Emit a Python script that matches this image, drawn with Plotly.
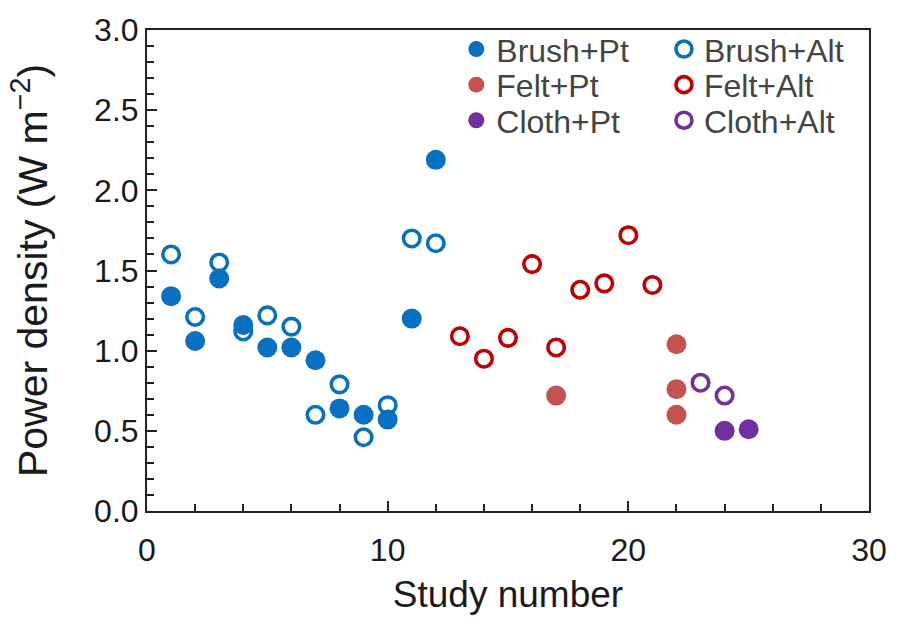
import plotly.graph_objects as go

# ---- data ----
brush_pt_x = [1, 2, 3, 4, 5, 6, 7, 8, 9, 10, 11, 12]
brush_pt_y = [1.34, 1.06, 1.45, 1.16, 1.02, 1.02, 0.94, 0.64, 0.60, 0.57, 1.20, 2.19]

brush_alt_x = [1, 2, 3, 4, 5, 6, 7, 8, 9, 10, 11, 12]
brush_alt_y = [1.60, 1.21, 1.55, 1.12, 1.22, 1.15, 0.60, 0.79, 0.46, 0.66, 1.70, 1.67]

felt_pt_x = [17, 22, 22, 22]
felt_pt_y = [0.72, 1.04, 0.76, 0.60]

felt_alt_x = [13, 14, 15, 16, 17, 18, 19, 20, 21]
felt_alt_y = [1.09, 0.95, 1.08, 1.54, 1.02, 1.38, 1.42, 1.72, 1.41]

cloth_pt_x = [24, 25]
cloth_pt_y = [0.50, 0.51]

cloth_alt_x = [23, 24]
cloth_alt_y = [0.80, 0.72]

y_ticks = [0.0, 0.5, 1.0, 1.5, 2.0, 2.5, 3.0]
x_ticks = [0, 10, 20, 30]

BLUE = "#0870C2"
FELT_FILL = "#C4534F"
FELT_OPEN = "#C00000"
PURPLE = "#7030A0"
FONT = "Liberation Sans, Arial, sans-serif"

fig = go.Figure()

def filled(x, y, name, color, legend):
    fig.add_trace(go.Scatter(
        x=x, y=y, mode="markers", name=name, legend=legend,
        marker=dict(symbol="circle", size=20, color=color, line=dict(width=0)),
    ))

def hollow(x, y, name, color, legend):
    fig.add_trace(go.Scatter(
        x=x, y=y, mode="markers", name=name, legend=legend,
        marker=dict(symbol="circle-open", size=16.5, color=color,
                    line=dict(width=3.6, color=color)),
    ))

filled(brush_pt_x, brush_pt_y, "Brush+Pt", BLUE, "legend")
hollow(brush_alt_x, brush_alt_y, "Brush+Alt", BLUE, "legend2")
filled(felt_pt_x, felt_pt_y, "Felt+Pt", FELT_FILL, "legend3")
hollow(felt_alt_x, felt_alt_y, "Felt+Alt", FELT_OPEN, "legend4")
filled(cloth_pt_x, cloth_pt_y, "Cloth+Pt", PURPLE, "legend5")
hollow(cloth_alt_x, cloth_alt_y, "Cloth+Alt", PURPLE, "legend6")

legend_font = dict(family=FONT, size=32, color="#444444")
col_x = [0.4284, 0.716]
row_y = [0.960, 0.886, 0.812]

def leg(cx, ry):
    return dict(x=cx, y=ry, xanchor="left", yanchor="middle",
                bgcolor="rgba(0,0,0,0)", borderwidth=0, font=legend_font,
                itemclick=False, itemdoubleclick=False)

axis_line = "#222222"

fig.update_layout(
    width=899, height=620,
    margin=dict(l=147, r=26, t=30, b=107),
    paper_bgcolor="white", plot_bgcolor="white",
    font=dict(family=FONT, color="#1a1a1a"),
    showlegend=True,
    legend=leg(col_x[0], row_y[0]),
    legend2=leg(col_x[1], row_y[0]),
    legend3=leg(col_x[0], row_y[1]),
    legend4=leg(col_x[1], row_y[1]),
    legend5=leg(col_x[0], row_y[2]),
    legend6=leg(col_x[1], row_y[2]),
    xaxis=dict(
        range=[0, 30], tickvals=x_ticks, ticktext=[str(v) for v in x_ticks],
        ticks="inside", ticklen=10, tickwidth=2, tickcolor=axis_line,
        minor=dict(dtick=2, ticks="inside", ticklen=7, tickwidth=2, tickcolor=axis_line),
        showline=True, linewidth=2, linecolor=axis_line, mirror=True,
        showgrid=False, zeroline=False, ticklabelstandoff=10,
        tickfont=dict(size=32, family=FONT, color="#1a1a1a"),
        title=dict(text="Study number", font=dict(size=37, family=FONT, color="#1a1a1a"), standoff=14),
    ),
    yaxis=dict(
        range=[0, 3.0], tickvals=y_ticks, ticktext=[f"{v:.1f}" for v in y_ticks],
        ticks="inside", ticklen=10, tickwidth=2, tickcolor=axis_line,
        minor=dict(dtick=0.1, ticks="inside", ticklen=7, tickwidth=2, tickcolor=axis_line),
        showline=True, linewidth=2, linecolor=axis_line, mirror=True,
        showgrid=False, zeroline=False,
        tickfont=dict(size=32, family=FONT, color="#1a1a1a"),
        title=dict(text="Power density (W m<sup>\u22122</sup>)",
                   font=dict(size=41, family=FONT, color="#1a1a1a"), standoff=34),
    ),
)

fig.write_html("out.html")
